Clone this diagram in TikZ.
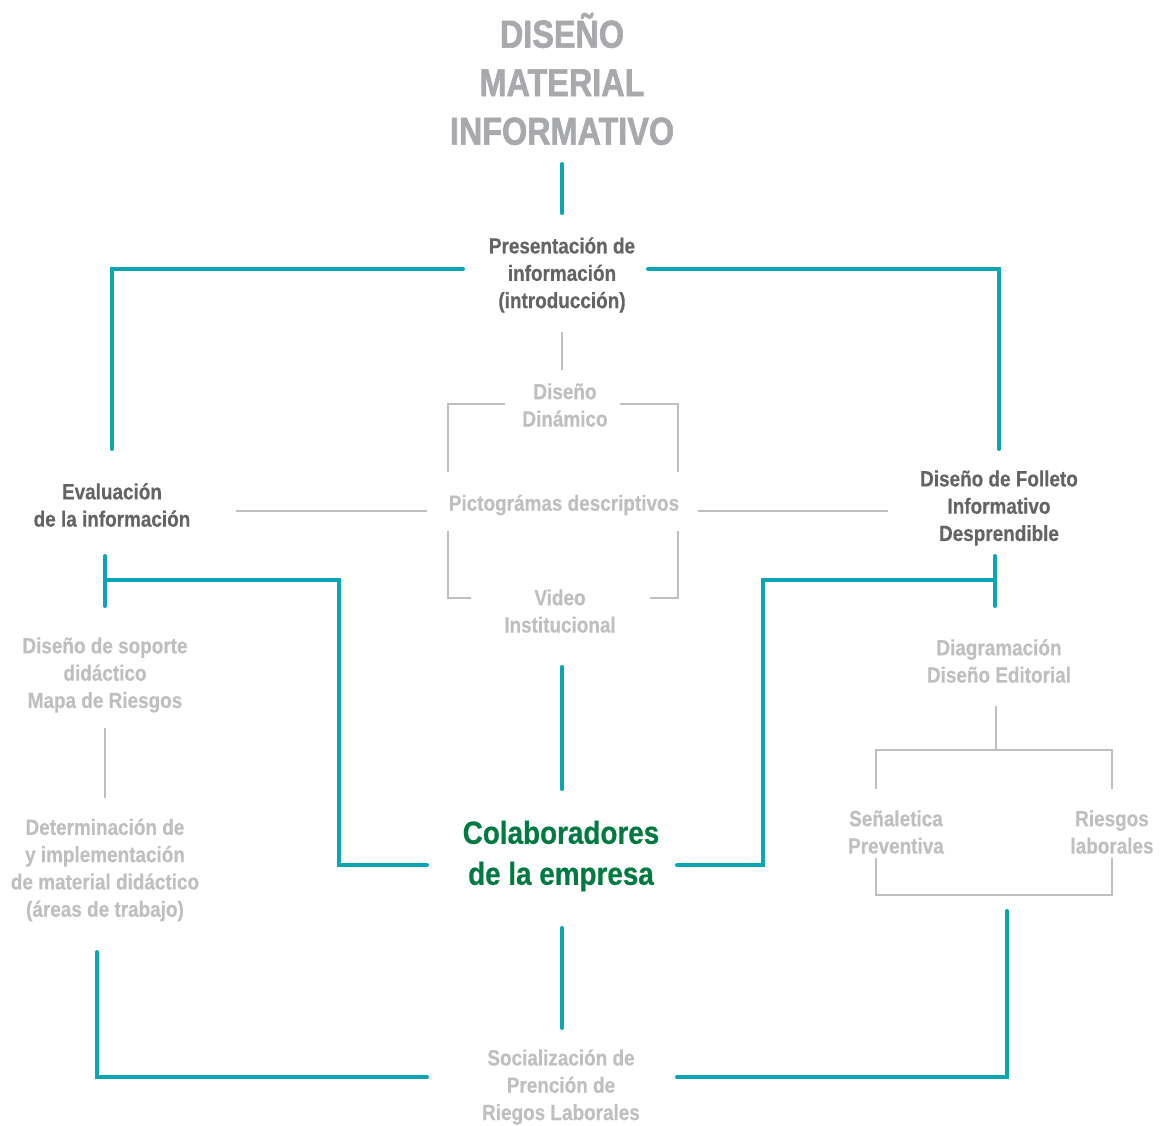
\documentclass[tikz,border=0pt]{standalone}
\usepackage{fontspec}
\newfontfamily\condfont{Liberation Sans Bold}[FakeStretch=0.86,FakeBold=0.4]
\newfontfamily\titlefont{Liberation Sans Bold}[FakeStretch=0.83,FakeBold=1.6]
\newfontfamily\greenfont{Liberation Sans Bold}[FakeStretch=0.87,FakeBold=0.5]
\definecolor{tealc}{RGB}{10,166,181}
\definecolor{lgray}{RGB}{190,191,193}
\definecolor{dgray}{RGB}{99,100,102}
\definecolor{tgray}{RGB}{167,169,172}
\definecolor{greenc}{RGB}{0,122,64}
\tikzset{
  tline/.style={draw=tealc,line width=4pt,line cap=round},
  gline/.style={draw=lgray,line width=2.8pt},
  txt/.style={inner sep=0pt,align=center,font=\condfont\fontsize{22}{27.3}\selectfont},
  dtxt/.style={txt,text=dgray},
  ltxt/.style={txt,text=lgray},
  ttl/.style={inner sep=0pt,align=center,text=tgray,font=\titlefont\fontsize{39}{48.5}\selectfont},
  gtxt/.style={inner sep=0pt,align=center,text=greenc,font=\greenfont\fontsize{32}{41}\selectfont}
}
\begin{document}
\begin{tikzpicture}[x=1pt,y=-1pt]
\useasboundingbox (0,0) rectangle (1163,1126);
% nodes
\node[ttl] (title) at (562,79) {DISEÑO\\MATERIAL\\INFORMATIVO};
\node[dtxt] (pres) at (562,275) {Presentación de\\información\\(introducción)};
\node[ltxt] (din) at (565,405) {Diseño\\Dinámico};
\node[ltxt] (picto) at (564,505) {Pictográmas descriptivos};
\node[ltxt] (video) at (560,611) {Video\\Institucional};
\node[dtxt] (eval) at (112,505) {Evaluación\\de la información};
\node[dtxt] (foll) at (999,508) {Diseño de Folleto\\Informativo\\Desprendible};
\node[ltxt] (sop) at (105,675) {Diseño de soporte\\didáctico\\Mapa de Riesgos};
\node[ltxt] (det) at (105,870) {Determinación de\\y implementación\\de material didáctico\\(áreas de trabajo)};
\node[ltxt] (diag) at (999,661) {Diagramación\\Diseño Editorial};
\node[ltxt] (sen) at (896,832) {Señaletica\\Preventiva};
\node[ltxt] (ries) at (1112,832) {Riesgos\\laborales};
\node[gtxt] (col) at (561,856) {Colaboradores\\de la empresa};
\node[ltxt] (soc) at (561,1087) {Socialización de\\Prención de\\Riegos Laborales};
% coordinates
\coordinate (tA) at (562,164); \coordinate (tB) at (562,213);
\coordinate (pL) at (463,269); \coordinate (pR) at (648,269);
\coordinate (eT) at (112,449); \coordinate (fT) at (999,449);
% teal connectors
\draw[tline] (tA) -- (tB);
\draw[tline] (pL) -- (112,269) -- (eT);
\draw[tline] (pR) -- (999,269) -- (fT);
\draw[tline] (562,667) -- (562,789);
\draw[tline] (562,928) -- (562,1028);
\draw[tline] (427,865) -- (339,865) -- (339,580) -- (105,580);
\draw[tline] (105,556) -- (105,606);
\draw[tline] (677,865) -- (763,865) -- (763,580) -- (995,580);
\draw[tline] (995,556) -- (995,606);
\draw[tline] (427,1077) -- (97,1077) -- (97,952);
\draw[tline] (677,1077) -- (1007,1077) -- (1007,911);
% gray connectors
\draw[gline] (562,332) -- (562,370);
\draw[gline] (505,404) -- (448,404) -- (448,472);
\draw[gline] (620,404) -- (678,404) -- (678,472);
\draw[gline] (448,531) -- (448,598) -- (471,598);
\draw[gline] (678,531) -- (678,598) -- (650,598);
\draw[gline] (236,511) -- (427,511);
\draw[gline] (698,511) -- (888,511);
\draw[gline] (105,728) -- (105,798);
\draw[gline] (996,706) -- (996,750);
\draw[gline] (876,789) -- (876,750) -- (1112,750) -- (1112,789);
\draw[gline] (876,858) -- (876,895) -- (1112,895) -- (1112,858);
\end{tikzpicture}
\end{document}
